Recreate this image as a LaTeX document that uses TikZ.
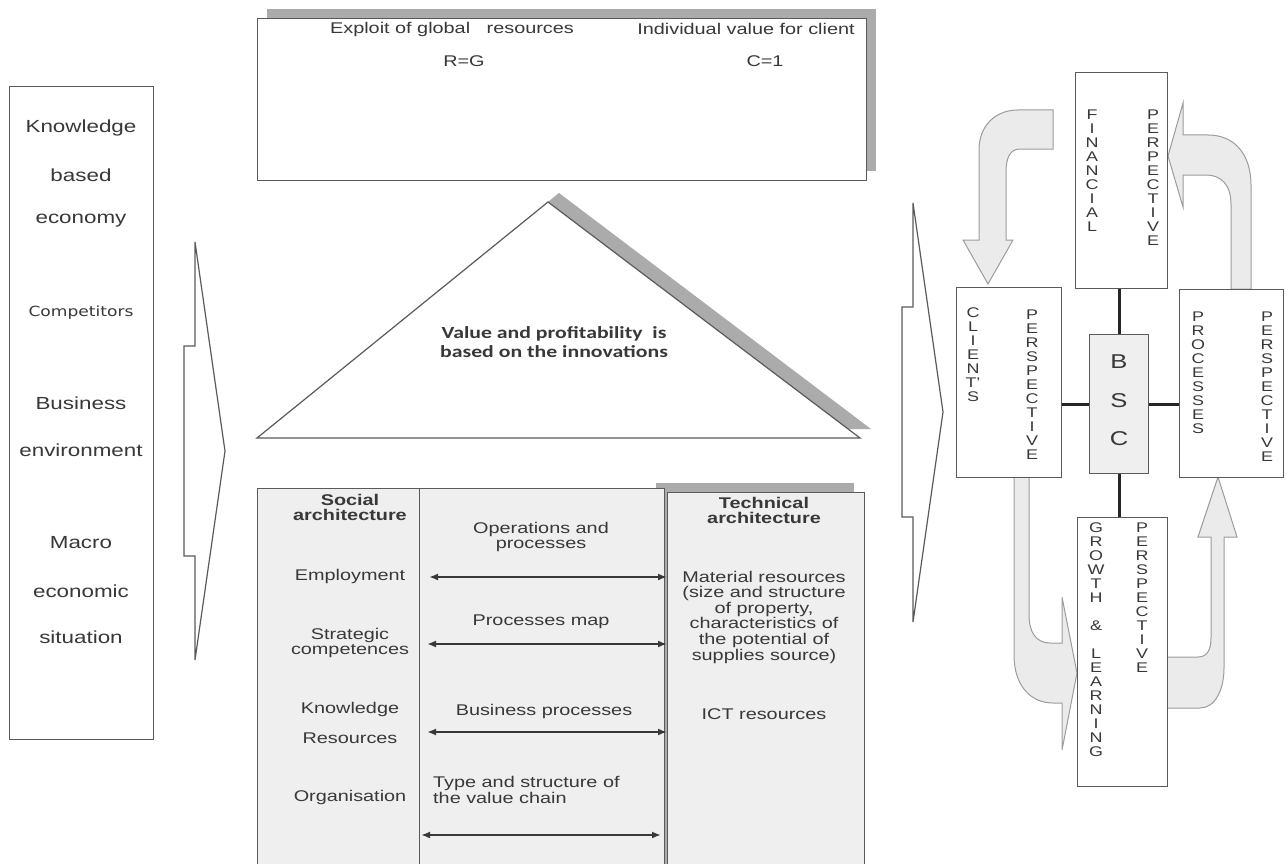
\documentclass[tikz,border=0pt]{standalone}
\usepackage{fontspec}
\setmainfont{Liberation Sans}[FakeStretch=1.28]
\newfontfamily\compfont{DejaVu Sans}[FakeStretch=1.22]
\newfontfamily\trifont{Carlito}[FakeStretch=1.28]
\usepackage{tikz}
\usetikzlibrary{arrows.meta}
\definecolor{edge}{HTML}{5A5A5A}
\definecolor{ink}{HTML}{383838}
\definecolor{dropgray}{HTML}{ABABAB}
\definecolor{panel}{HTML}{EFEFEF}
\definecolor{flow}{HTML}{EBEBEB}
\definecolor{flowedge}{HTML}{9C9C9C}
\newcommand{\fs}[2]{\fontsize{#1}{#2}\selectfont}
\tikzset{
  box/.style={draw=edge, line width=1.2pt, fill=white, inner sep=0pt, anchor=north west},
  lbl/.style={text=ink, inner sep=0pt, align=center, font=\fs{15.5}{15.6}},
  envtxt/.style={lbl, font=\fs{17.5}{18}},
  head/.style={lbl, font=\fs{15.5}{15}\bfseries},
  vword/.style={lbl, anchor=north, font=\fs{14}{14}},
  bigarrow/.style={draw=edge, line width=1.2pt, fill=white},
  flowshape/.style={fill=flow, draw=flowedge, line width=1pt},
  link/.style={line width=3pt, draw=black!85},
  twoway/.style={{Latex[length=9pt,width=7pt]}-{Latex[length=9pt,width=7pt]}, line width=2.2pt, draw=ink}
}
\begin{document}
\begin{tikzpicture}[x=1pt,y=-1pt]
  \useasboundingbox (0,0) rectangle (1287,864);
  % environment column
  \node[box, minimum width=144, minimum height=653] (env) at (9,86) {};
  \node[envtxt] (know) at (81,128) {Knowledge};
  \node[envtxt] (based) at (81,175) {based};
  \node[envtxt] (econ) at (81,221) {economy};
  \node[lbl, font=\compfont\fs{14}{14}] (comp) at (81,313) {Competitors};
  \node[envtxt] (bus) at (81,403) {Business};
  \node[envtxt] (envir) at (81,450) {environment};
  \node[envtxt] (macro) at (81,543) {Macro};
  \node[envtxt] (ecomic) at (81,591) {economic};
  \node[envtxt] (sit) at (81,637) {situation};
  \draw[bigarrow] (195,242) -- (195,346) -- (184,346) -- (184,556) -- (195,556) -- (195,660) -- (225,451) -- cycle;

  % goals box
  \fill[dropgray] (267,9) rectangle (876,171);
  \node[box, minimum width=609, minimum height=162] (goal) at (257,18) {};
  \node[lbl] (glob) at (452,29) {Exploit of global~~ resources};
  \node[lbl] (indiv) at (746,29) {Individual value for client};
  \node[lbl] (rg) at (464,61) {R=G};
  \node[lbl] (c1) at (765,61) {C=1};

  % value triangle
  \fill[dropgray] (559,193) -- (871,429) -- (268,429) -- cycle;
  \draw[bigarrow] (548,202) -- (860,438) -- (257,438) -- cycle;
  \node[lbl, font=\trifont\bfseries\fs{17}{19}] (tri) at (554,342) {Value and profitability~ is\\based on the innovations};

  % architecture panels
  \fill[dropgray] (656,483) rectangle (854,880);
  \node[box, fill=panel, minimum width=162, minimum height=400] (social) at (257,488) {};
  \node[box, fill=panel, minimum width=245, minimum height=400] (ops) at (419,488) {};
  \node[box, fill=panel, minimum width=197, minimum height=400] (tech) at (667,492) {};
  \node[head] (soc) at (350,507) {Social\\architecture};
  \node[lbl] (empl) at (350,576) {Employment};
  \node[lbl] (strat) at (350,643) {Strategic\\competences};
  \node[lbl] (knres) at (350,709) {Knowledge};
  \node[lbl] (res) at (350,738) {Resources};
  \node[lbl] (org) at (350,797) {Organisation};
  \node[lbl] (oper) at (541,537) {Operations and\\processes};
  \node[lbl] (pmap) at (541,622) {Processes map};
  \node[lbl] (bproc) at (544,711) {Business processes};
  \node[lbl, align=left, anchor=west] (chain) at (433,790) {Type and structure of\\the value chain};
  \node[head] (techh) at (764,510) {Technical\\architecture};
  \node[lbl] (mat) at (764,617) {Material resources\\(size and structure\\of property,\\characteristics of\\the potential of\\supplies source)};
  \node[lbl] (ict) at (764,714) {ICT resources};
  \coordinate (a1) at (429,577); \coordinate (b1) at (667,577);
  \coordinate (a2) at (427,644); \coordinate (b2) at (667,644);
  \coordinate (a3) at (427,732); \coordinate (b3) at (667,732);
  \coordinate (a4) at (421,835); \coordinate (b4) at (661,835);
  \draw[twoway] (a1) -- (b1);
  \draw[twoway] (a2) -- (b2);
  \draw[twoway] (a3) -- (b3);
  \draw[twoway] (a4) -- (b4);

  % balanced scorecard
  \draw[bigarrow] (913,203) -- (913,307) -- (902,307) -- (902,517) -- (913,517) -- (913,622) -- (943,412) -- cycle;
  \draw[flowshape] (1053,110) -- (1018,110) .. controls (995,110) and (979,126) .. (979,150) -- (979,240) -- (963,240) -- (988,284) -- (1013,240) -- (1006,240) -- (1006,172) .. controls (1006,158) and (1010,149) .. (1020,149) -- (1053,149) -- cycle;
  \draw[flowshape] (1231,289) -- (1231,205) .. controls (1231,185) and (1222,175) .. (1205,175) -- (1183,175) -- (1183,207) -- (1168,156) -- (1183,103) -- (1183,135) -- (1208,135) .. controls (1235,135) and (1251,155) .. (1251,185) -- (1251,289) -- cycle;
  \draw[flowshape] (1014,477) -- (1014,655) .. controls (1014,685) and (1030,703) .. (1053,703) -- (1062,703) -- (1062,750) -- (1077,673) -- (1062,597) -- (1062,643) -- (1050,643) .. controls (1036,643) and (1029,632) .. (1029,615) -- (1029,477) -- cycle;
  \draw[flowshape] (1167,657) -- (1198,657) .. controls (1207,657) and (1211,650) .. (1211,638) -- (1211,537) -- (1198,537) -- (1218,477) -- (1237,537) -- (1224,537) -- (1224,668) .. controls (1224,690) and (1215,708) .. (1200,708) -- (1167,708) -- cycle;
  \node[box, minimum width=92, minimum height=216] (fin) at (1075,72) {};
  \node[box, minimum width=105, minimum height=190] (cli) at (956,287) {};
  \node[box, fill=panel, minimum width=59, minimum height=139] (bsc) at (1089,334) {};
  \node[box, minimum width=104, minimum height=188] (proc) at (1179,289) {};
  \node[box, minimum width=90, minimum height=269] (grow) at (1077,517) {};
  \draw[link] (bsc.north) -- (bsc.north |- fin.south);
  \draw[link] (bsc.south) -- (bsc.south |- grow.north);
  \draw[link] (bsc.west) -- (bsc.west -| cli.east);
  \draw[link] (bsc.east) -- (bsc.east -| proc.west);
  \node[vword] (finA) at (1092,110) {F\\I\\N\\A\\N\\C\\I\\A\\L};
  \node[vword] (finB) at (1153,110) {P\\E\\R\\P\\E\\C\\T\\I\\V\\E};
  \node[vword] (cliA) at (973,308) {C\\L\\I\\E\\N\\T'\\S};
  \node[vword] (cliB) at (1032,310) {P\\E\\R\\S\\P\\E\\C\\T\\I\\V\\E};
  \node[vword] (procA) at (1198,312) {P\\R\\O\\C\\E\\S\\S\\E\\S};
  \node[vword] (procB) at (1267,312) {P\\E\\R\\S\\P\\E\\C\\T\\I\\V\\E};
  \node[vword] (growA) at (1096,523) {G\\R\\O\\W\\T\\H\\~\\\&\\~\\L\\E\\A\\R\\N\\I\\N\\G};
  \node[vword] (growB) at (1142,523) {P\\E\\R\\S\\P\\E\\C\\T\\I\\V\\E};
  \node[vword, font=\fs{20}{38.5}] (bscL) at (1119,355) {B\\S\\C};
\end{tikzpicture}
\end{document}
